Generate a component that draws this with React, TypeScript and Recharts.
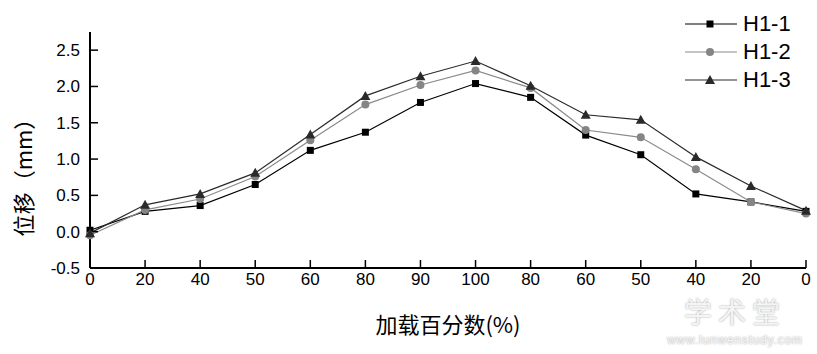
import React from 'react';
import { LineChart, Line, XAxis, YAxis } from 'recharts';

const loadLabels = [0, 20, 40, 50, 60, 80, 90, 100, 80, 60, 50, 40, 20, 0];
const h11 = [0.02, 0.28, 0.36, 0.65, 1.12, 1.37, 1.78, 2.04, 1.85, 1.33, 1.06, 0.52, 0.41, 0.28];
const h12 = [-0.05, 0.3, 0.45, 0.76, 1.26, 1.75, 2.02, 2.22, 1.98, 1.4, 1.3, 0.86, 0.41, 0.25];
const h13 = [-0.02, 0.37, 0.52, 0.81, 1.34, 1.87, 2.14, 2.35, 2.01, 1.61, 1.54, 1.03, 0.63, 0.29];
const yTicks = [-0.5, 0, 0.5, 1.0, 1.5, 2.0, 2.5];

const data = loadLabels.map((l, i) => ({ i, load: l, h11: h11[i], h12: h12[i], h13: h13[i] }));

const SANS = '"Liberation Sans", Arial, sans-serif';
const CJK = '"Noto Sans CJK SC", sans-serif';

const SquareDot = (p: any) => (
  <rect key={`s${p.index}`} x={p.cx - 3.5} y={p.cy - 3.5} width={7} height={7} fill="#000" />
);
const CircleDot = (p: any) => (
  <circle key={`c${p.index}`} cx={p.cx} cy={p.cy} r={4} fill="#858585" />
);
const TriDot = (p: any) => (
  <polygon
    key={`t${p.index}`}
    points={`${p.cx},${p.cy - 5} ${p.cx - 5},${p.cy + 4} ${p.cx + 5},${p.cy + 4}`}
    fill="#2a2a2a"
  />
);

const series = [
  { key: 'h11', label: 'H1-1', color: '#000', Dot: SquareDot },
  { key: 'h12', label: 'H1-2', color: '#8a8a8a', Dot: CircleDot },
  { key: 'h13', label: 'H1-3', color: '#2a2a2a', Dot: TriDot },
];

export default function App() {
  return (
    <div style={{ position: 'absolute', left: 0, top: 0, width: 817, height: 354, background: '#fff' }}>
      <LineChart width={817} height={354} data={data} margin={{ top: 32, right: 11, bottom: 26, left: 0 }}>
        <XAxis
          dataKey="i"
          height={60}
          tickFormatter={(v: number) => String(loadLabels[v])}
          interval={0}
          axisLine={{ stroke: '#000', strokeWidth: 2 }}
          tickLine={{ stroke: '#000', strokeWidth: 1.5 }}
          tickSize={-8}
          tickMargin={13}
          tick={{ fill: '#000', fontSize: 17, fontFamily: SANS }}
          label={{
            content: () => (
              <text x={448} y={333} textAnchor="middle" fontSize={22} fontFamily={CJK} fill="#000">
                加载百分数(%)
              </text>
            ),
          }}
        />
        <YAxis
          width={90}
          domain={[-0.5, 2.75]}
          ticks={yTicks}
          tickFormatter={(v: number) => v.toFixed(1)}
          axisLine={{ stroke: '#000', strokeWidth: 2 }}
          tickLine={{ stroke: '#000', strokeWidth: 1.5 }}
          tickSize={-8}
          tickMargin={18}
          tick={{ fill: '#000', fontSize: 17, fontFamily: SANS }}
          label={{
            content: () => (
              <text
                x={22}
                y={172}
                transform="rotate(-90 22 172)"
                textAnchor="middle"
                dominantBaseline="central"
                fontSize={22}
                fontFamily={CJK}
                fill="#000"
              >
                位移（mm）
              </text>
            ),
          }}
        />
        {series.map((s) => (
          <Line
            key={s.key}
            dataKey={s.key}
            type="linear"
            stroke={s.color}
            strokeWidth={1.2}
            dot={s.Dot}
            activeDot={false}
            isAnimationActive={false}
          />
        ))}
      </LineChart>

      <div style={{ position: 'absolute', left: 683, top: 10 }}>
        {series.map((s) => (
          <div key={s.key} style={{ display: 'flex', alignItems: 'center', height: 28 }}>
            <svg width={56} height={28}>
              <line x1={2} y1={14} x2={54} y2={14} stroke={s.color} strokeWidth={1.2} />
              <s.Dot cx={27} cy={14} index={0} />
            </svg>
            <span style={{ marginLeft: 4, fontSize: 22, fontFamily: SANS, color: '#000', lineHeight: '28px' }}>
              {s.label}
            </span>
          </div>
        ))}
      </div>

      <div
        style={{
          position: 'absolute',
          left: 667,
          top: 290,
          width: 136,
          textAlign: 'center',
          color: '#f4f4f4',
          textShadow: '0 0 2px #999',
          fontFamily: CJK,
        }}
      >
        <div style={{ fontSize: 28, lineHeight: '42px', letterSpacing: 6 }}>学术堂</div>
        <div style={{ fontSize: 12, lineHeight: '14px', marginTop: 1, fontFamily: SANS, letterSpacing: 0.8 }}>
          www.lunwenstudy.com
        </div>
      </div>
    </div>
  );
}
